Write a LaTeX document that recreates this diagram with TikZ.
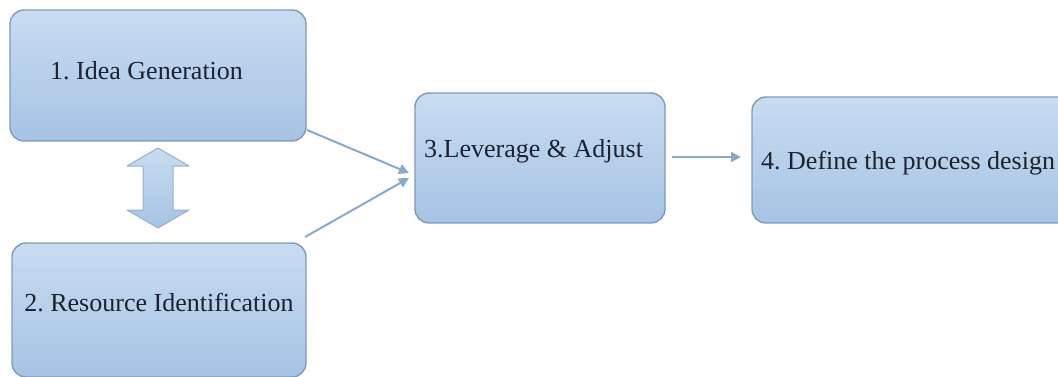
\documentclass[tikz,border=0pt]{standalone}
\usepackage{fontspec}
\setmainfont{Liberation Serif}
\usetikzlibrary{arrows.meta}
\definecolor{boxtop}{HTML}{C9DCF1}
\definecolor{boxbot}{HTML}{A6C3E4}
\definecolor{boxline}{HTML}{7E9BBA}
\definecolor{arrowcol}{HTML}{8AA8C9}
\definecolor{ink}{HTML}{1C2230}
\tikzset{
  stepbox/.style={draw=boxline, line width=1.4pt, rounded corners=14pt,
    top color=boxtop, bottom color=boxbot, inner sep=0pt},
  steptext/.style={text=ink, inner sep=0pt,
    font=\fontsize{26}{29}\selectfont\frenchspacing},
  flow/.style={draw=arrowcol, line width=2pt, -{Triangle[length=10pt,width=10pt]}},
}
\begin{document}
\begin{tikzpicture}[x=1pt,y=-1pt]
\useasboundingbox (0,0) rectangle (1058,376);
\clip (0,0) rectangle (1058,376);
% boxes
\node[stepbox, minimum width=296pt, minimum height=131pt] (idea) at (158,75.5) {};
\node[steptext, anchor=west] (ideat) at (50,71) {1. Idea Generation};
\node[stepbox, minimum width=294pt, minimum height=134pt] (res) at (159,310) {};
\node[steptext] (rest) at (159,303) {2. Resource Identification};
\node[stepbox, minimum width=250pt, minimum height=130pt] (lev) at (540,158) {};
\node[steptext, anchor=west] (levt) at (424,151) {3.Leverage \& Adjust};
\node[stepbox, minimum width=330pt, minimum height=126pt] (def) at (917,160) {};
\node[steptext, anchor=west] (deft) at (761,163) {4. Define the process design};
% connectors
\coordinate (a1) at (307,130);
\coordinate (a2) at (305,237);
\coordinate (t1) at (409,173);
\coordinate (t2) at (409,178);
\draw[flow] (a1) -- (t1);
\draw[flow] (a2) -- (t2);
\coordinate (b1) at (672,157);
\coordinate (b2) at (741,157);
\draw[flow] (b1) -- (b2);
% two-headed block arrow between ideas and resources
\draw[boxline!80, line width=1pt, top color=boxtop, bottom color=boxbot, line join=round]
  (158,148) -- (189,166) -- (173,166) -- (173,210) -- (189,210) -- (158,228)
  -- (127,210) -- (143,210) -- (143,166) -- (127,166) -- cycle;
\end{tikzpicture}
\end{document}
